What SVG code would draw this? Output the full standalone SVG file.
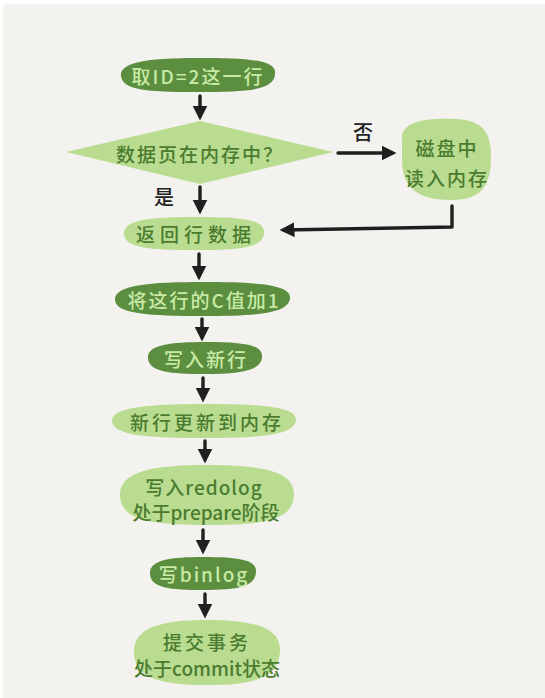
<svg xmlns="http://www.w3.org/2000/svg" width="545" height="698" viewBox="0 0 545 698">
<defs>
<style>
.dk{fill:#5b8e3e}
.lt{fill:#b9dc90}
.tdk{fill:#c9eaa6;font-family:"Noto Sans CJK SC","Liberation Sans",sans-serif;font-size:19px;font-weight:500;letter-spacing:2px;text-anchor:middle;dominant-baseline:central}
.tlt{fill:#4a7b2f;font-family:"Noto Sans CJK SC","Liberation Sans",sans-serif;font-size:19px;font-weight:500;letter-spacing:2px;text-anchor:middle;dominant-baseline:central}
.lbl{fill:#222;font-family:"Noto Sans CJK SC","Liberation Sans",sans-serif;font-size:20px;font-weight:500;text-anchor:middle;dominant-baseline:central}
.ar{stroke:#1f1f1f;stroke-width:3.4;fill:none;stroke-linecap:round;stroke-linejoin:round}
</style>
<marker id="ah" viewBox="0 0 10 10" refX="7" refY="5" markerWidth="15" markerHeight="16" markerUnits="userSpaceOnUse" orient="auto">
<path d="M0,0 L10,5 L0,10 z" fill="#1f1f1f"/>
</marker>
</defs>
<rect x="0" y="0" width="545" height="698" fill="#ffffff"/>
<rect x="3" y="4" width="545" height="700" rx="4" fill="#f3f2ee"/>

<g id="connectors">
<path class="ar" d="M200 96 L200 116" marker-end="url(#ah)"/>
<path class="ar" d="M200 187 L200 210" marker-end="url(#ah)"/>
<path class="ar" d="M199 254 L199 276" marker-end="url(#ah)"/>
<path class="ar" d="M202 319 L202 337" marker-end="url(#ah)"/>
<path class="ar" d="M203 378 L203 398" marker-end="url(#ah)"/>
<path class="ar" d="M205 441 L205 459" marker-end="url(#ah)"/>
<path class="ar" d="M203 530 L203 550" marker-end="url(#ah)"/>
<path class="ar" d="M205 594 L205 614" marker-end="url(#ah)"/>
<path class="ar" d="M338 153 L392 153" marker-end="url(#ah)"/>
<path class="ar" d="M452 206 L452 227 L284 230" marker-end="url(#ah)"/>
<text class="lbl" x="363" y="131">否</text>
<text class="lbl" x="164" y="196">是</text>
</g>

<g id="n1">
<path class="dk" d="M121 76 C119 62 150 58 197 58 C250 58 277 60 275 74 C274 90 250 92 197 92 C145 92 123 90 121 76 Z"/>
<text class="tdk" x="198" y="75">取ID=2这一行</text>
</g>

<g id="n2">
<path class="lt" d="M66 152 L200 121 L333 152 L200 184 Z"/>
<text class="tlt" x="200" y="153">数据页在内存中？</text>
</g>

<g id="n3">
<path class="lt" d="M402 140 C400 120 430 118 455 119 C485 120 492 135 491 160 C490 190 478 200 450 200 C415 200 402 185 402 160 Z"/>
<text class="tlt" x="447" y="147">磁盘中</text>
<text class="tlt" x="447" y="177">读入内存</text>
</g>

<g id="n4">
<path class="lt" d="M124 234 C123 220 150 217 194 217 C245 217 265 220 264 233 C263 248 240 250 194 250 C150 250 125 248 124 234 Z"/>
<text class="tlt" x="196" y="233" style="letter-spacing:5px">返回行数据</text>
</g>

<g id="n5">
<path class="dk" d="M115 300 C114 285 150 282 203 282 C260 282 291 285 290 298 C289 313 260 316 203 316 C150 316 116 314 115 300 Z"/>
<text class="tdk" x="204" y="299">将这行的C值加1</text>
</g>

<g id="n6">
<path class="dk" d="M148 358 C147 345 170 342 205 342 C245 342 263 345 262 357 C261 371 240 374 205 374 C170 374 149 372 148 358 Z"/>
<text class="tdk" x="206" y="358">写入新行</text>
</g>

<g id="n7">
<path class="lt" d="M112 421 C111 407 150 404 204 404 C262 404 297 407 296 420 C295 435 262 438 204 438 C150 438 113 436 112 421 Z"/>
<text class="tlt" x="207" y="421" style="letter-spacing:3px">新行更新到内存</text>
</g>

<g id="n8">
<path class="lt" d="M120 496 C119 472 150 465 208 465 C265 465 295 472 294 495 C293 520 265 525 208 525 C150 525 121 520 120 496 Z"/>
<text class="tlt" x="204" y="486" style="letter-spacing:1px">写入redolog</text>
<text class="tlt" x="206" y="511" style="letter-spacing:0">处于prepare阶段</text>
</g>

<g id="n9">
<path class="dk" d="M150 574 C149 560 170 557 203 557 C240 557 257 560 256 572 C255 587 238 590 203 590 C170 590 151 588 150 574 Z"/>
<text class="tdk" x="204" y="573">写binlog</text>
</g>

<g id="n10">
<path class="lt" d="M134 653 C133 628 160 620 207 620 C255 620 281 628 280 651 C279 678 255 685 207 685 C160 685 135 678 134 653 Z"/>
<text class="tlt" x="207" y="641" style="letter-spacing:3px">提交事务</text>
<text class="tlt" x="207" y="667" style="letter-spacing:0">处于commit状态</text>
</g>
</svg>
